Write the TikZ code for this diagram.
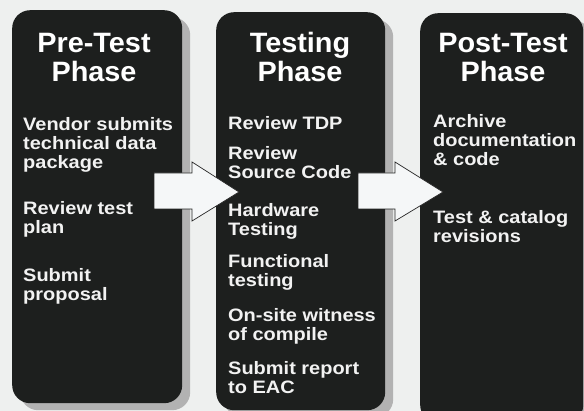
\documentclass[tikz,border=0pt]{standalone}
\usepackage{fontspec}
\setmainfont{Liberation Sans}
\newfontfamily\titlef{Liberation Sans}[FakeStretch=1.03]
\newfontfamily\bodyf{Liberation Sans}[FakeStretch=1.11]
\usetikzlibrary{shadows,calc}
\definecolor{bgc}{HTML}{EEF0EF}
\definecolor{boxc}{HTML}{1D1F1E}
\definecolor{shadc}{HTML}{B2B2B2}
\definecolor{arrc}{HTML}{F5F7F8}
\definecolor{txtc}{HTML}{F2F2F2}
\newcommand\ctext[1]{\vtop{\baselineskip=29pt\lineskiplimit=-20pt\halign{\hfil##\hfil\cr#1\crcr}}}
\newcommand\ltext[1]{\vtop{\baselineskip=19pt\lineskiplimit=-20pt\halign{##\hfil\cr#1\crcr}}}
\begin{document}
\begin{tikzpicture}[x=1pt,y=-1pt,
  phasebox/.style={draw=none, fill=boxc, rounded corners=18pt, anchor=north west,
    inner sep=0pt, drop shadow={shadow xshift=8pt, shadow yshift=-7pt, fill=shadc, opacity=1}},
  phasetitle/.style={anchor=base, inner sep=0pt, text=white, font=\titlef\bfseries\fontsize{28}{29}\selectfont},
  item/.style={anchor=base west, inner sep=0pt, text=txtc, font=\bodyf\bfseries\fontsize{18}{19}\selectfont},
  blockarrow/.style={fill=arrc, draw=black!85, line width=0.7pt, line join=miter}]
\useasboundingbox (0,0) rectangle (584,411);
\fill[bgc] (0,0) rectangle (584,411);

% phase boxes
\node[phasebox, minimum width=170pt, minimum height=393pt] (b1) at (12,10) {};
\node[phasebox, minimum width=169pt, minimum height=398pt] (b2) at (216,12) {};
\node[phasebox, minimum width=163pt, minimum height=410pt] (b3) at (420,13) {};

% block arrows between the phases
\coordinate (a1s) at (154,191);
\coordinate (a1t) at (239,192);
\draw[blockarrow] (a1s) ++(0,-18) -- ++(38,0) -- ++(0,-11) -- (a1t)
  -- ($(a1s)+(38,30)$) -- ++(0,-12) -- ($(a1s)+(0,18)$) -- cycle;
\coordinate (a2s) at (358,191);
\coordinate (a2t) at (443,192);
\draw[blockarrow] (a2s) ++(0,-18) -- ++(37,0) -- ++(0,-11) -- (a2t)
  -- ($(a2s)+(37,30)$) -- ++(0,-12) -- ($(a2s)+(0,18)$) -- cycle;

% titles
\node[phasetitle] (t1) at (94,53) {\ctext{Pre-Test\cr Phase}};
\node[phasetitle] (t2) at (300,53) {\ctext{Testing\cr Phase}};
\node[phasetitle] (t3) at (503,53) {\ctext{Post-Test\cr Phase}};

% pre-test items
\node[item] (p1) at (23,131) {\ltext{Vendor submits\cr technical data\cr package}};
\node[item] (p2) at (23,215) {\ltext{Review test\cr plan}};
\node[item] (p3) at (23,282) {\ltext{Submit\cr proposal}};

% testing items
\node[item] (s1) at (228,130) {\ltext{Review TDP}};
\node[item] (s2) at (228,160) {\ltext{Review\cr Source Code}};
\node[item] (s3) at (228,217) {\ltext{Hardware\cr Testing}};
\node[item] (s4) at (228,268) {\ltext{Functional\cr testing}};
\node[item] (s5) at (228,322) {\ltext{On-site witness\cr of compile}};
\node[item] (s6) at (228,375) {\ltext{Submit report\cr to EAC}};

% post-test items
\node[item] (q1) at (433,128) {\ltext{Archive\cr documentation\cr \& code}};
\node[item] (q2) at (433,224) {\ltext{Test \& catalog\cr revisions}};
\end{tikzpicture}
\end{document}
